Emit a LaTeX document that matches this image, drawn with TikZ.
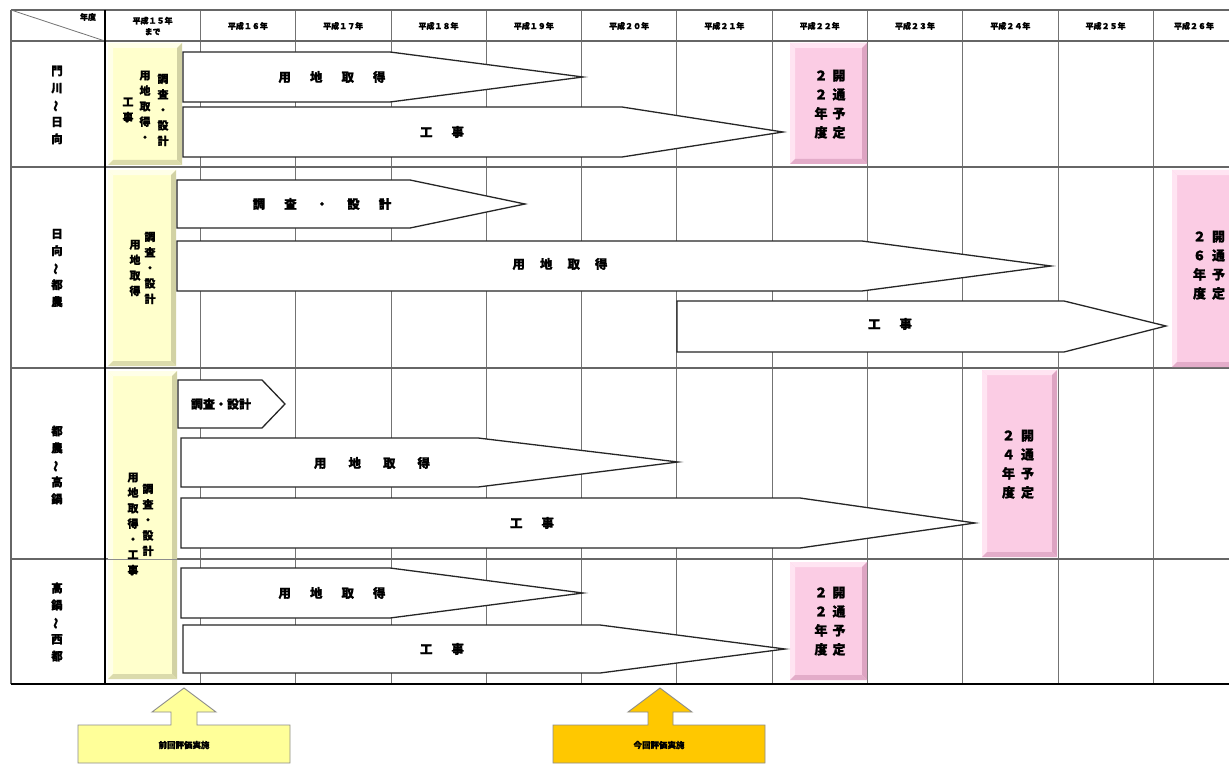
\documentclass[tikz,border=0pt]{standalone}
\usepackage{fontspec}
\newfontfamily\jp{Noto Sans CJK JP}[BoldFeatures={FakeBold=1.2}]
\definecolor{ylbase}{HTML}{FFFFCC}
\definecolor{yllight}{HTML}{FFFFE8}
\definecolor{yldark}{HTML}{D2D2A4}
\definecolor{pkbase}{HTML}{FBCCE4}
\definecolor{pklight}{HTML}{FFE4F2}
\definecolor{pkdark}{HTML}{DDA4C2}
\definecolor{paleyel}{HTML}{FFFF99}
\definecolor{goldbox}{HTML}{FFC800}
\newcommand\bevelbox[7]{%
  \fill[#5] (#1,#2) rectangle (#3,#4);
  \fill[#6] (#1,#2) -- (#3,#2) -- ({#3-5},{#2+5}) -- ({#1+5},{#2+5}) -- cycle;
  \fill[#6] (#1,#2) -- ({#1+5},{#2+5}) -- ({#1+5},{#4-5}) -- (#1,#4) -- cycle;
  \fill[#7] (#3,#2) -- (#3,#4) -- ({#3-5},{#4-5}) -- ({#3-5},{#2+5}) -- cycle;
  \fill[#7!80!#5] (#1,#4) -- (#3,#4) -- ({#3-5},{#4-5}) -- ({#1+5},{#4-5}) -- cycle;
}
\begin{document}
\begin{tikzpicture}[x=1pt,y=-1pt,
  gridline/.style={draw=black!55,line width=0.8pt},
  rowline/.style={draw=black!60,line width=1.5pt},
  arrowbox/.style={draw=black!85,fill=white,line width=1.3pt,line join=miter},
  lbl/.style={font=\jp\bfseries\fontsize{12.5}{14}\selectfont,inner sep=0pt},
  hdr/.style={font=\jp\bfseries\fontsize{8}{11}\selectfont,inner sep=0pt,align=center},
  vlab/.style={font=\jp\bfseries\fontsize{11.5}{17}\selectfont,inner sep=0pt,align=center},
  yvt/.style={font=\jp\bfseries\fontsize{11}{15.5}\selectfont,inner sep=0pt,align=center},
  pkt/.style={font=\jp\bfseries\fontsize{13}{19}\selectfont,inner sep=0pt},
  callout/.style={draw=black!45,line width=0.9pt},
  ctext/.style={font=\jp\bfseries\fontsize{8.5}{10}\selectfont,inner sep=0pt}]
\useasboundingbox (0,0) rectangle (1229,765);
\fill[white] (0,0) rectangle (1229,765);
\def\g{\hspace{19pt}}
% grid
\foreach \x in {200.3,295.6,390.9,486.2,581.5,676.8,772.1,867.4,962.7,1058,1153.3}
  \draw[gridline] (\x,10) -- (\x,684);
\draw[rowline] (11,10) -- (1229,10);
\draw[rowline] (11,41) -- (1229,41);
\foreach \y in {167,368,559} \draw[rowline] (11,\y) -- (1229,\y);
\draw[rowline] (11,10) -- (11,684);
\draw[gridline] (11,10) -- (105,41);
% header
\node[hdr] (hy) at (88,17) {年度};
\node[hdr] (h15) at (152.6,26) {平成１５年\\まで};
\node[hdr] (h16) at (247.9,26) {平成１６年};
\node[hdr] (h17) at (343.2,26) {平成１７年};
\node[hdr] (h18) at (438.5,26) {平成１８年};
\node[hdr] (h19) at (533.8,26) {平成１９年};
\node[hdr] (h20) at (629.1,26) {平成２０年};
\node[hdr] (h21) at (724.4,26) {平成２１年};
\node[hdr] (h22) at (819.7,26) {平成２２年};
\node[hdr] (h23) at (915,26) {平成２３年};
\node[hdr] (h24) at (1010.3,26) {平成２４年};
\node[hdr] (h25) at (1105.6,26) {平成２５年};
\node[hdr] (h26) at (1194,26) {平成２６年};
% left labels
\node[vlab] (s1) at (57,105) {門\\川\\\rotatebox[origin=c]{90}{～}\\日\\向};
\node[vlab] (s2) at (57,268) {日\\向\\\rotatebox[origin=c]{90}{～}\\都\\農};
\node[vlab] (s3) at (57,465) {都\\農\\\rotatebox[origin=c]{90}{～}\\高\\鍋};
\node[vlab] (s4) at (57,622) {高\\鍋\\\rotatebox[origin=c]{90}{～}\\西\\都};
% yellow boxes
\bevelbox{108}{43}{182}{165}{ylbase}{yllight}{yldark}
\bevelbox{108}{170}{176}{366}{ylbase}{yllight}{yldark}
\bevelbox{108}{371}{177}{679}{ylbase}{yllight}{yldark}
\draw[draw=black!45,line width=0.8pt] (105,559) -- (177,559);
\draw[black,line width=1.8pt] (105,10) -- (105,684);
\draw[black,line width=2.2pt] (11,684) -- (1229,684);
\node[yvt] (y1a) at (163,110) {調\\査\\・\\設\\計};
\node[yvt] (y1b) at (145,106) {用\\地\\取\\得\\・};
\node[yvt] (y1c) at (128,110) {工\\事};
\node[yvt] (y2a) at (150,268) {調\\査\\・\\設\\計};
\node[yvt] (y2b) at (135,268) {用\\地\\取\\得};
\node[yvt] (y3a) at (148,520) {調\\査\\・\\設\\計};
\node[yvt] (y3b) at (133,524) {用\\地\\取\\得\\・\\工\\事};
% pink boxes
\bevelbox{790}{43}{867}{164}{pkbase}{pklight}{pkdark}
\bevelbox{1172}{170}{1240}{367}{pkbase}{pklight}{pkdark}
\bevelbox{982}{370}{1057}{557}{pkbase}{pklight}{pkdark}
\bevelbox{790}{562}{867}{680}{pkbase}{pklight}{pkdark}
\node[pkt] (p1) at (830,105) {\begin{tabular}{@{}c@{\hspace{5pt}}c@{}}２&開\\２&通\\年&予\\度&定\end{tabular}};
\node[pkt] (p2) at (1209,266) {\begin{tabular}{@{}c@{\hspace{6pt}}c@{}}２&開\\６&通\\年&予\\度&定\end{tabular}};
\node[pkt] (p3) at (1018,465) {\begin{tabular}{@{}c@{\hspace{6pt}}c@{}}２&開\\４&通\\年&予\\度&定\end{tabular}};
\node[pkt] (p4) at (830,622) {\begin{tabular}{@{}c@{\hspace{5pt}}c@{}}２&開\\２&通\\年&予\\度&定\end{tabular}};
% arrows row 1
\draw[arrowbox] (183,52) -- (390,52) -- (583,77) -- (390,102) -- (183,102) -- cycle;
\node[lbl] (a1) at (332,77) {用\g 地\g 取\g 得};
\draw[arrowbox] (183,107) -- (622,107) -- (783,132) -- (622,157) -- (183,157) -- cycle;
\node[lbl] (a2) at (442,132) {工\g 事};
% row 2
\draw[arrowbox] (177,180) -- (410,180) -- (525,204) -- (410,228) -- (177,228) -- cycle;
\node[lbl] (a3) at (322,204) {調\g 査\g ・\g 設\g 計};
\draw[arrowbox] (177,241) -- (862,241) -- (1051,266) -- (862,291) -- (177,291) -- cycle;
\node[lbl] (a4) at (560,264) {用\hspace{15pt}地\hspace{15pt}取\hspace{15pt}得};
\draw[arrowbox] (677,301) -- (1064,301) -- (1166,326) -- (1064,352) -- (677,352) -- cycle;
\node[lbl] (a5) at (890,324) {工\g 事};
% row 3
\draw[arrowbox] (178,380) -- (262,380) -- (285,404) -- (262,428) -- (178,428) -- cycle;
\node[lbl,font=\jp\bfseries\fontsize{12}{14}\selectfont] (a6) at (221,404) {調査・設計};
\draw[arrowbox] (181,438) -- (478,438) -- (678,462) -- (478,487) -- (181,487) -- cycle;
\node[lbl] (a7) at (372,463) {用\hspace{22pt}地\hspace{22pt}取\hspace{22pt}得};
\draw[arrowbox] (181,498) -- (800,498) -- (975,523) -- (800,548) -- (181,548) -- cycle;
\node[lbl] (a8) at (532,523) {工\g 事};
% row 4
\draw[arrowbox] (181,568) -- (390,568) -- (583,593) -- (390,618) -- (181,618) -- cycle;
\node[lbl] (a9) at (332,593) {用\g 地\g 取\g 得};
\draw[arrowbox] (183,625) -- (600,625) -- (785,649) -- (600,673) -- (183,673) -- cycle;
\node[lbl] (a10) at (442,649) {工\g 事};
% bottom callouts
\draw[callout,fill=paleyel] (78,725) -- (171,725) -- (171,712) -- (152,712) -- (184,688) -- (216,712) -- (197,712) -- (197,725) -- (290,725) -- (290,763) -- (78,763) -- cycle;
\node[ctext] (c1) at (184,745) {前回評価実施};
\draw[callout,fill=goldbox] (553,725) -- (648,725) -- (648,712) -- (628,712) -- (660,688) -- (692,712) -- (673,712) -- (673,725) -- (765,725) -- (765,763) -- (553,763) -- cycle;
\node[ctext] (c2) at (659,745) {今回評価実施};
\end{tikzpicture}
\end{document}
